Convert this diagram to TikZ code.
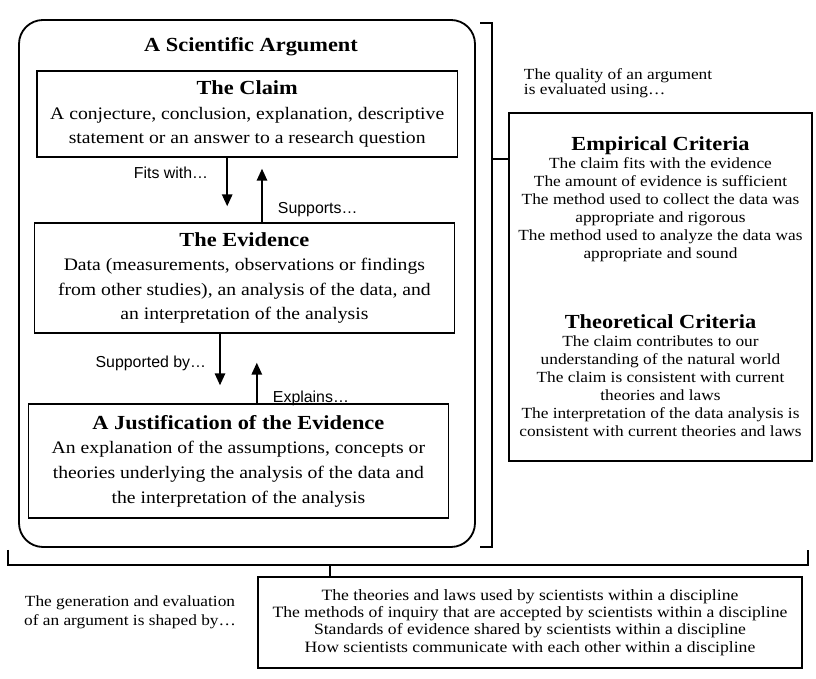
\documentclass[tikz,border=0pt]{standalone}
\usepackage{fontspec}
\setmainfont[FakeStretch=1.12]{Liberation Serif}
\newfontfamily\etifont{Liberation Sans}
\newcommand\titfont{\bfseries\fontsize{14.2}{17.5}\selectfont}
\usetikzlibrary{arrows.meta}

\begin{document}
\begin{tikzpicture}[
  font=\fontsize{12.5}{17.5}\selectfont,
  riquadro/.style={draw=black, line width=1pt, align=center, inner sep=0pt},
  freccia/.style={draw=black, line width=1.3pt, -{Triangle[length=3mm, width=2.6mm]}},
  etichetta/.style={font=\etifont\fontsize{11.3}{13}\selectfont},
  graffa/.style={draw=black, line width=1pt},
  criterio/.style={font=\fontsize{11}{12.8}\selectfont},
  nota/.style={font=\fontsize{11}{11}\selectfont}
]

\useasboundingbox (0,0) rectangle (20.4,16.975);

%--------------------------------------------------------------
% Argomento scientifico: cornice e tre riquadri
%--------------------------------------------------------------
\node[draw=black, line width=1.3pt, rounded corners=0.6cm,
      minimum width=11.4cm, minimum height=13.175cm] (argomento) at (6.175,9.8875) {};
\node[font=\titfont] (intestazione) at (6.275,15.8) {A Scientific Argument};

\node[riquadro, minimum width=10.5cm, minimum height=2.15cm] (claim) at (6.18,14.125)
  {{\titfont The Claim}\\
   A conjecture, conclusion, explanation, descriptive\\
   statement or an answer to a research question};

\node[riquadro, minimum width=10.5cm, minimum height=2.75cm] (evidence) at (6.11,10.025)
  {{\titfont The Evidence}\\
   Data (measurements, observations or findings\\
   from other studies), an analysis of the data, and\\
   an interpretation of the analysis};

\node[riquadro, minimum width=10.5cm, minimum height=2.85cm] (justification) at (5.96,5.45)
  {{\titfont A Justification of the Evidence}\\
   An explanation of the assumptions, concepts or\\
   theories underlying the analysis of the data and\\
   the interpretation of the analysis};

%--------------------------------------------------------------
% Frecce tra i riquadri e loro etichette
%--------------------------------------------------------------
\draw[freccia, shorten >=0.4cm] ([xshift=-0.5cm]claim.south)
  -- ([xshift=-0.5cm]claim.south |- evidence.north);
\draw[freccia, shorten >=0.275cm] ([xshift=0.44cm]evidence.north)
  -- ([xshift=0.44cm]evidence.north |- claim.south);
\draw[freccia, shorten >=0.45cm] ([xshift=-0.61cm]evidence.south)
  -- ([xshift=-0.61cm]evidence.south |- justification.north);
\draw[freccia, shorten >=0.725cm] ([xshift=0.46cm]justification.north)
  -- ([xshift=0.46cm]justification.north |- evidence.south);

\node[etichetta, anchor=east] (fits) at (5.325,12.65) {Fits with\dots};
\node[etichetta, anchor=west] (supports) at (6.825,11.725) {Supports\dots};
\node[etichetta, anchor=east] (supported) at (5.275,7.9) {Supported by\dots};
\node[etichetta, anchor=west] (explains) at (6.7,7.025) {Explains\dots};

%--------------------------------------------------------------
% Criteri di valutazione
%--------------------------------------------------------------
\node[nota, anchor=south west, align=left] (qualita) at (12.975,14.4)
  {The quality of an argument\\ is evaluated using\dots};

\node[riquadro, criterio, minimum width=7.575cm, minimum height=8.7cm] (criteri) at (16.5125,9.8)
  {{\titfont Empirical Criteria}\\
   The claim fits with the evidence\\
   The amount of evidence is sufficient\\
   The method used to collect the data was\\
   appropriate and rigorous\\
   The method used to analyze the data was\\
   appropriate and sound\\[1.3cm]
   {\titfont Theoretical Criteria}\\
   The claim contributes to our\\
   understanding of the natural world\\
   The claim is consistent with current\\
   theories and laws\\
   The interpretation of the data analysis is\\
   consistent with current theories and laws};

\coordinate (gancioA) at (12.3,13.0);
\draw[graffa] (12.0,16.4) -- (12.3,16.4) -- (12.3,3.3) -- (12.0,3.3);
\draw[graffa] (gancioA) -- (criteri.west |- gancioA);

%--------------------------------------------------------------
% Comunita' scientifica
%--------------------------------------------------------------
\node[nota, font=\fontsize{11}{13.5}\selectfont, align=center] (generazione) at (3.25,1.675)
  {The generation and evaluation\\ of an argument is shaped by\dots};

\node[riquadro, font=\fontsize{11.2}{12.2}\selectfont, minimum width=13.6cm,
      minimum height=2.275cm] (comunita) at (13.25,1.4125)
  {The theories and laws used by scientists within a discipline\\
   The methods of inquiry that are accepted by scientists within a discipline\\
   Standards of evidence shared by scientists within a discipline\\
   How scientists communicate with each other within a discipline};

\coordinate (gancioB) at (8.25,2.85);
\draw[graffa] (0.2,3.225) -- (0.2,2.85) -- (20.2,2.85) -- (20.2,3.225);
\draw[graffa] (gancioB) -- (gancioB |- comunita.north);

\end{tikzpicture}
\end{document}
